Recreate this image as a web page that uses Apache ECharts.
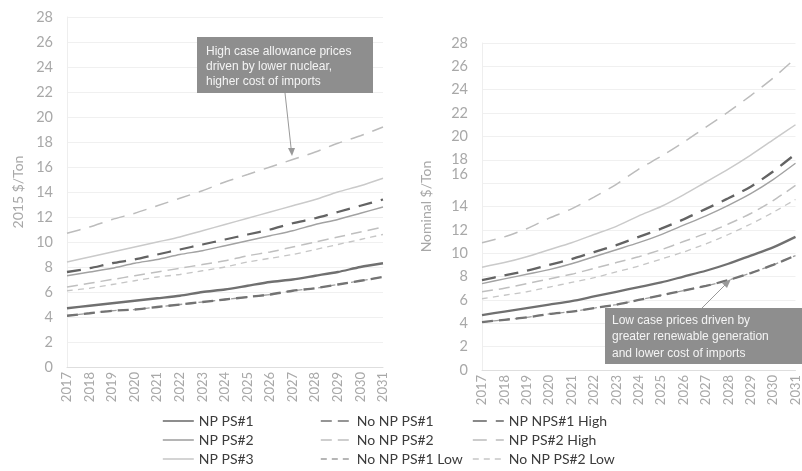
<!DOCTYPE html>
<html>
<head>
<meta charset="utf-8">
<script src="https://cdn.jsdelivr.net/npm/echarts@6/dist/echarts.min.js"></script>
<style>html,body{margin:0;padding:0;background:#fff}#c{width:802px;height:471px}</style>
</head>
<body>
<div id="c"></div>
<script>
const years = ['2017','2018','2019','2020','2021','2022','2023','2024','2025','2026','2027','2028','2029','2030','2031'];
const yTicks = [0,2,4,6,8,10,12,14,16,18,20,22,24,26,28];

// Left panel: 2015 $/Ton
const realNPPS1       = [4.7,4.9,5.1,5.3,5.5,5.7,6.0,6.2,6.5,6.8,7.0,7.3,7.6,8.0,8.3];
const realNPPS2       = [7.3,7.6,7.9,8.3,8.6,9.0,9.3,9.7,10.1,10.5,10.9,11.4,11.8,12.3,12.8];
const realNPPS3       = [8.4,8.8,9.2,9.6,10.0,10.4,10.9,11.4,11.9,12.4,12.9,13.4,14.0,14.5,15.1];
const realNoNPPS1     = [4.1,4.3,4.5,4.6,4.8,5.0,5.2,5.4,5.6,5.8,6.1,6.3,6.6,6.9,7.2];
const realNoNPPS2     = [6.4,6.7,7.0,7.3,7.6,7.9,8.2,8.5,8.9,9.2,9.6,10.0,10.4,10.8,11.2];
const realNoNPPS1Low  = [4.1,4.3,4.5,4.6,4.8,5.0,5.2,5.4,5.6,5.8,6.1,6.3,6.6,6.9,7.2];
const realNPNPS1High  = [7.6,7.9,8.3,8.6,9.0,9.4,9.8,10.2,10.6,11.0,11.5,11.9,12.4,12.9,13.4];
const realNPPS2High   = [10.7,11.2,11.8,12.3,12.9,13.5,14.1,14.8,15.4,16.0,16.6,17.2,17.9,18.5,19.2];
const realNoNPPS2Low  = [6.1,6.3,6.6,6.9,7.2,7.4,7.7,8.0,8.4,8.7,9.0,9.4,9.8,10.2,10.6];

// Right panel: Nominal $/Ton
const nomNPPS1        = [4.7,5.0,5.3,5.6,5.9,6.3,6.7,7.1,7.5,8.0,8.5,9.1,9.8,10.5,11.4];
const nomNPPS2        = [7.4,7.8,8.2,8.6,9.1,9.7,10.3,10.9,11.6,12.4,13.2,14.1,15.1,16.3,17.7];
const nomNPPS3        = [8.8,9.2,9.7,10.3,10.9,11.6,12.3,13.2,14.0,15.0,16.1,17.2,18.4,19.7,21.0];
const nomNoNPPS1      = [4.1,4.3,4.5,4.8,5.0,5.3,5.6,6.0,6.4,6.8,7.2,7.7,8.3,9.0,9.8];
const nomNoNPPS2      = [6.7,7.0,7.4,7.8,8.2,8.7,9.2,9.7,10.3,11.0,11.7,12.5,13.4,14.5,15.8];
const nomNoNPPS1Low   = [4.1,4.3,4.5,4.8,5.0,5.3,5.6,6.0,6.4,6.8,7.2,7.7,8.3,9.0,9.8];
const nomNPNPS1High   = [7.7,8.1,8.5,9.0,9.5,10.1,10.7,11.4,12.1,12.9,13.8,14.7,15.7,17.0,18.5];
const nomNPPS2High    = [10.9,11.4,12.1,13.0,13.8,14.8,15.9,17.2,18.3,19.5,20.8,22.1,23.5,25.0,26.7];
const nomNoNPPS2Low   = [6.1,6.4,6.7,7.1,7.5,7.9,8.4,8.9,9.5,10.1,10.8,11.6,12.5,13.5,14.6];

const names = ['NP PS#1','NP PS#2','NP PS#3','No NP PS#1','No NP PS#2','No NP PS#1 Low','NP NPS#1 High','NP PS#2 High','No NP PS#2 Low'];
const realData = [realNPPS1,realNPPS2,realNPPS3,realNoNPPS1,realNoNPPS2,realNoNPPS1Low,realNPNPS1High,realNPPS2High,realNoNPPS2Low];
const nomData  = [nomNPPS1,nomNPPS2,nomNPPS3,nomNoNPPS1,nomNoNPPS2,nomNoNPPS1Low,nomNPNPS1High,nomNPPS2High,nomNoNPPS2Low];

const styles = [
  {color:'#707070', width:2.3, type:'solid'},
  {color:'#a2a2a2', width:1.4, type:'solid'},
  {color:'#cacaca', width:1.5, type:'solid'},
  {color:'#737373', width:2.3, type:[11,6]},
  {color:'#bfbfbf', width:1.5, type:[11,6]},
  {color:'#9e9e9e', width:1.3, type:[6,5]},
  {color:'#636363', width:2.3, type:[14,9]},
  {color:'#bcbcbc', width:1.5, type:[14,9]},
  {color:'#c6c6c6', width:1.3, type:[6,5]}
];
const drawOrder = [5,8,4,2,1,7,6,3,0];

const axisLabelColor = '#a8a8a8';
const font = 'Lato, "Open Sans", sans-serif';

function xAxis(gi){
  return {
    type:'category', gridIndex:gi, data:years, boundaryGap:false,
    axisLine:{show:true, lineStyle:{color:'#dedede'}},
    axisTick:{show:false},
    axisLabel:{rotate:90, color:axisLabelColor, fontSize:13, fontFamily:font, margin:5, interval:0},
    splitLine:{show:false}
  };
}
function yAxis(gi, name, gap, shift16){
  return {
    type:'value', gridIndex:gi, min:0, max:28, interval:2,
    name:name, nameLocation:'middle', nameGap:gap,
    nameTextStyle:{color:axisLabelColor, fontSize:14, fontFamily:font},
    axisLine:{show:true, lineStyle:{color:'#eeeeee'}},
    axisTick:{show:false},
    axisLabel:{color:axisLabelColor, fontSize:14.5, fontFamily:font, margin:14,
      formatter: v => (shift16 && v===16) ? '{u|16}' : String(v),
      rich:{u:{color:axisLabelColor, fontSize:14.5, fontFamily:font, padding:[0,0,17,0]}}},
    splitLine:{show:true, lineStyle:{color:'#f0f0f0', width:1}}
  };
}

const series = [];
[realData, nomData].forEach((set, gi) => {
  drawOrder.forEach(i => {
    series.push({
      name:names[i], type:'line', xAxisIndex:gi, yAxisIndex:gi,
      data:set[i], symbol:'none', smooth:0.25, silent:true,
      lineStyle:{color:styles[i].color, width:styles[i].width, type:styles[i].type},
      itemStyle:{color:styles[i].color}
    });
  });
});

function legend(left, items){
  return {
    left:left, top:409, height:70, orient:'vertical', data:items,
    itemWidth:31, itemHeight:14, itemGap:5,
    itemStyle:{opacity:0, borderWidth:0},
    lineStyle:{width:1.6},
    textStyle:{color:'#3c3c3c', fontSize:14, fontFamily:font},
    selectedMode:false
  };
}

const chart = echarts.init(document.getElementById('c'), null, {renderer:'canvas'});
chart.setOption({
  backgroundColor:'#ffffff',
  animation:false,
  grid:[
    {left:67, top:17, width:316, height:350},
    {left:482, top:43, width:315, height:327}
  ],
  xAxis:[xAxis(0), xAxis(1)],
  yAxis:[yAxis(0,'2015 $/Ton',42,false), yAxis(1,'Nominal $/Ton',49,true)],
  legend:[
    legend(157, [names[0],names[1],names[2]]),
    legend(315, [names[3],names[4],names[5]]),
    legend(467, [names[6],names[7],names[8]])
  ],
  series:series,
  graphic:[
    {type:'rect', shape:{x:197, y:37, width:176, height:56}, style:{fill:'#8e8e8e'}, z:10},
    {type:'text', x:206, y:44, z:11, style:{text:'High case allowance prices\ndriven by lower nuclear,\nhigher cost of imports', fill:'#f4f4f4', font:'12px "Liberation Sans", Arial, sans-serif', lineHeight:15}},
    {type:'line', shape:{x1:285, y1:93, x2:291.5, y2:152}, style:{stroke:'#999', lineWidth:1}, z:10},
    {type:'polygon', shape:{points:[[292,156],[288,148],[295,148]]}, style:{fill:'#999'}, z:10},
    {type:'rect', shape:{x:605, y:308, width:197, height:56}, style:{fill:'#8e8e8e'}, z:10},
    {type:'text', x:612, y:312, z:11, style:{text:'Low case prices driven by\ngreater renewable generation\nand lower cost of imports', fill:'#f4f4f4', font:'12px "Liberation Sans", Arial, sans-serif', lineHeight:16.5}},
    {type:'line', shape:{x1:702, y1:308, x2:727, y2:283}, style:{stroke:'#999', lineWidth:1}, z:10},
    {type:'polygon', shape:{points:[[731,279],[722,283],[727,288]]}, style:{fill:'#999'}, z:10}
  ]
});
</script>
</body>
</html>
